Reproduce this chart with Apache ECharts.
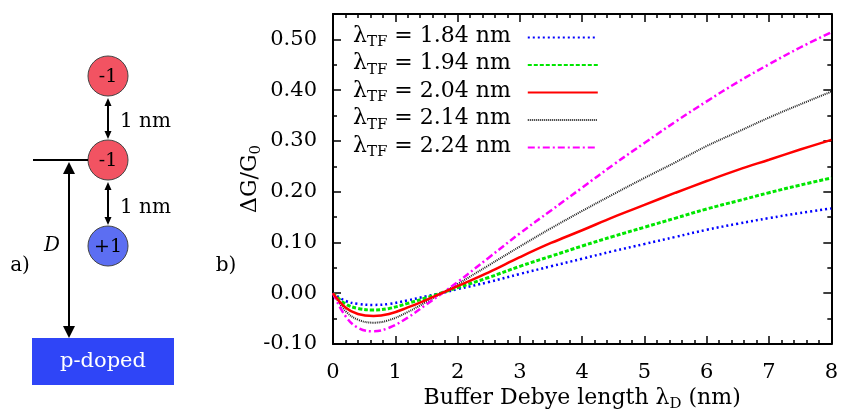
<!DOCTYPE html>
<html>
<head>
<meta charset="utf-8">
<script src="https://cdn.jsdelivr.net/npm/echarts@6/dist/echarts.min.js"></script>
<style>
  html, body { margin: 0; padding: 0; background: #fff; }
  #chart { width: 841px; height: 417px; }
</style>
</head>
<body>
<div id="chart"></div>
<script>
// Buffer Debye length (nm)
var xs = [0, 0.2, 0.4, 0.65, 0.9, 1.2, 1.5, 1.8, 2, 2.5, 3, 3.5, 4, 4.5, 5, 5.5, 6, 6.5, 7, 7.5, 8];

var names = ['1.84', '1.94', '2.04', '2.14', '2.24'];

var dg184 = [0, -0.015, -0.021, -0.023, -0.021, -0.014, -0.006, 0.002, 0.008, 0.022, 0.038, 0.053, 0.068, 0.083, 0.097, 0.111, 0.125, 0.137, 0.148, 0.158, 0.167];
var dg194 = [0, -0.021, -0.030, -0.033, -0.030, -0.020, -0.009, 0.003, 0.011, 0.031, 0.053, 0.073, 0.093, 0.112, 0.130, 0.148, 0.166, 0.182, 0.198, 0.213, 0.227];
var dg204 = [0, -0.028, -0.041, -0.045, -0.041, -0.028, -0.013, 0.003, 0.014, 0.041, 0.071, 0.099, 0.124, 0.150, 0.174, 0.198, 0.221, 0.243, 0.263, 0.283, 0.302];
var dg214 = [0, -0.035, -0.052, -0.058, -0.053, -0.037, -0.017, 0.004, 0.018, 0.055, 0.092, 0.128, 0.162, 0.195, 0.227, 0.258, 0.290, 0.318, 0.346, 0.372, 0.397];
var dg224 = [0, -0.045, -0.068, -0.075, -0.068, -0.048, -0.022, 0.004, 0.022, 0.070, 0.118, 0.163, 0.208, 0.253, 0.296, 0.338, 0.378, 0.416, 0.451, 0.484, 0.514];

var colors = ['#0000ff', '#00e600', '#ff0000', '#222222', '#ff00ff'];
var dashes = [[2, 3], [4, 2], 'solid', [1, 1], [7, 3, 2, 3]];
var widths = [2.5, 3, 2.5, 2, 2.5];

var serif = 'DejaVu Serif';

function pairs(ys) {
    return xs.map(function (x, i) { return [x, ys[i]]; });
}

var allY = [dg184, dg194, dg204, dg214, dg224];
var series = names.map(function (n, i) {
    return {
        name: n,
        type: 'line',
        data: pairs(allY[i]),
        smooth: 0.4,
        symbol: 'none',
        lineStyle: { color: colors[i], width: widths[i], type: dashes[i] },
        itemStyle: { color: colors[i] },
        z: i === 2 ? 5 : 3
    };
});

var tickLen = 8;
function xAx(pos, showLabel) {
    return {
        type: 'value', position: pos, min: 0, max: 8, interval: 1,
        nameMoveOverlap: false,
        axisLine: { show: true, onZero: false, lineStyle: { color: '#000', width: 2 } },
        axisTick: { show: true, inside: true, length: tickLen, lineStyle: { color: '#000', width: 1.5 } },
        minorTick: { show: true, splitNumber: 5, length: 4, lineStyle: { color: '#000', width: 1.5 } },
        splitLine: { show: false },
        axisLabel: {
            show: showLabel, color: '#000', fontFamily: serif, fontSize: 21, margin: 18,
            alignMinLabel: 'center', alignMaxLabel: 'center'
        }
    };
}
function yAx(pos, showLabel) {
    return {
        type: 'value', position: pos, min: -0.1, max: 0.55, interval: 0.1,
        nameMoveOverlap: false,
        axisLine: { show: true, onZero: false, lineStyle: { color: '#000', width: 2 } },
        axisTick: { show: true, inside: true, length: tickLen, lineStyle: { color: '#000', width: 1.5 } },
        minorTick: { show: true, splitNumber: 2, length: 4, lineStyle: { color: '#000', width: 1.5 } },
        splitLine: { show: false },
        axisLabel: {
            show: showLabel, color: '#000', fontFamily: serif, fontSize: 21, margin: 16,
            showMaxLabel: false,
            verticalAlignMinLabel: 'middle',
            formatter: function (v) { return v.toFixed(2); }
        }
    };
}

// main text sits at the top of the line, subscript is pushed to the bottom
var titleRich = {
    a: { fontFamily: serif, fontSize: 22, color: '#000', lineHeight: 25, verticalAlign: 'top' },
    s: { fontFamily: serif, fontSize: 15, color: '#000', lineHeight: 15, verticalAlign: 'bottom', padding: [14, 0, 0, 0] }
};
var xBottom = xAx('bottom', true);
xBottom.name = '{a|Buffer Debye length λ}{s|D}{a| (nm)}';
xBottom.nameLocation = 'middle';
xBottom.nameGap = 43;
xBottom.nameTextStyle = { rich: titleRich };
var yLeft = yAx('left', true);
yLeft.name = '{a|ΔG/G}{s|0}';
yLeft.nameLocation = 'middle';
yLeft.nameRotate = 90;
yLeft.nameGap = 69;
yLeft.nameTextStyle = { rich: titleRich };

var legendRich = {
    l: { fontFamily: serif, fontSize: 22, color: '#000', lineHeight: 25, verticalAlign: 'top' },
    r: { fontFamily: serif, fontSize: 22, color: '#000', lineHeight: 25, verticalAlign: 'top', padding: [0, 12, 0, 0] },
    s: { fontFamily: serif, fontSize: 15, color: '#000', lineHeight: 15, verticalAlign: 'bottom', padding: [14, 0, 0, 0] }
};

// left sketch (part a)
var ink = '#000';
function head(x, y, w, h, up) {
    var base = up ? y + h : y - h;
    return { type: 'polygon', shape: { points: [[x, y], [x - w / 2, base], [x + w / 2, base]] }, style: { fill: ink } };
}
function dArrow(x, y1, y2) {
    return [
        { type: 'line', shape: { x1: x, y1: y1 + 4, x2: x, y2: y2 - 4 }, style: { stroke: ink, lineWidth: 2 } },
        head(x, y1, 7, 8, true),
        head(x, y2, 7, 8, false)
    ];
}
function charge(cx, cy, fill, label) {
    return [
        { type: 'circle', shape: { cx: cx, cy: cy, r: 20 }, style: { fill: fill, stroke: '#444', lineWidth: 1 } },
        { type: 'text', style: { x: cx, y: cy + 1, text: label, align: 'center', verticalAlign: 'middle', font: '19px ' + serif, fill: '#000' } }
    ];
}
var sketch = [].concat(
    charge(108, 76, '#f25362', '-1'),
    charge(108, 160, '#f25362', '-1'),
    charge(108, 246, '#5c6ef2', '+1'),
    dArrow(108, 98, 139),
    dArrow(108, 182, 225),
    [
        { type: 'text', style: { x: 120, y: 122, text: '1 nm', verticalAlign: 'middle', font: '20px ' + serif, fill: '#000' } },
        { type: 'text', style: { x: 120, y: 208, text: '1 nm', verticalAlign: 'middle', font: '20px ' + serif, fill: '#000' } },
        { type: 'line', shape: { x1: 33, y1: 160, x2: 88, y2: 160 }, style: { stroke: ink, lineWidth: 2 } },
        { type: 'line', shape: { x1: 69, y1: 170, x2: 69, y2: 330 }, style: { stroke: ink, lineWidth: 2 } },
        head(69, 162, 12, 12, true),
        head(69, 338, 12, 12, false),
        { type: 'text', style: { x: 52, y: 246, text: 'D', align: 'center', verticalAlign: 'middle', font: 'italic 20px ' + serif, fill: '#000' } },
        { type: 'text', style: { x: 20, y: 266, text: 'a)', align: 'center', verticalAlign: 'middle', font: '20px ' + serif, fill: '#000' } },
        { type: 'rect', shape: { x: 32, y: 338, width: 142, height: 47 }, style: { fill: '#2f45f7' } },
        { type: 'text', style: { x: 103, y: 362, text: 'p-doped', align: 'center', verticalAlign: 'middle', font: '21px ' + serif, fill: '#fff' } },
        { type: 'text', style: { x: 226, y: 266, text: 'b)', align: 'center', verticalAlign: 'middle', font: '20px ' + serif, fill: '#000' } }
    ]
);

var myChart = echarts.init(document.getElementById('chart'), null, { renderer: 'canvas' });
var option = {
    animation: false,
    backgroundColor: '#fff',
    grid: { left: 333, right: 9, top: 14, bottom: 73, containLabel: false },
    legend: {
        orient: 'vertical',
        left: 353,
        top: 21,
        padding: 0,
        align: 'right',
        itemWidth: 70,
        itemHeight: 12,
        itemGap: -1.5,
        data: names,
        itemStyle: { color: 'rgba(0,0,0,0)', borderColor: 'rgba(0,0,0,0)', borderWidth: 0 },
        textStyle: { rich: legendRich },
        formatter: function (n) { return '{l|λ}{s|TF}{r| = ' + n + ' nm}'; }
    },
    xAxis: [xBottom, xAx('top', false)],
    yAxis: [yLeft, yAx('right', false)],
    graphic: sketch,
    series: series
};
myChart.setOption(option);
</script>
</body>
</html>
